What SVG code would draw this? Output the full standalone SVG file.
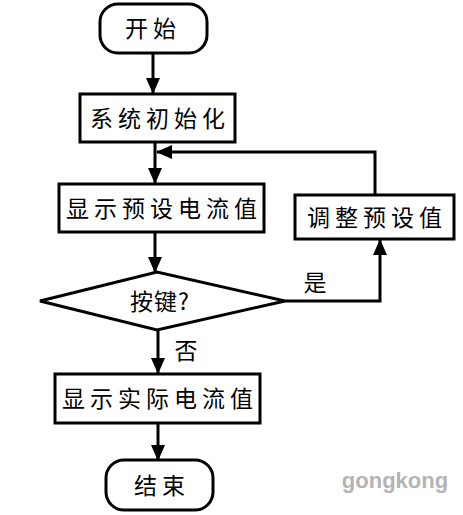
<svg xmlns="http://www.w3.org/2000/svg" width="463" height="515" viewBox="0 0 463 515">
<defs>
<style>
.n{fill:#fff;stroke:#000;stroke-width:3}
.t{font-family:"Noto Sans CJK SC","Liberation Serif",serif;font-size:23px;fill:#000;text-anchor:middle;letter-spacing:5px}
.c{fill:none;stroke:#000;stroke-width:3}
</style>
<marker id="ah" markerUnits="userSpaceOnUse" markerWidth="16" markerHeight="16" viewBox="0 0 16 16" refX="15" refY="8" orient="auto">
<path d="M0,1 L16,8 L0,15 Z" fill="#000"/>
</marker>
</defs>
<rect width="463" height="515" fill="#fff"/>
<g id="connectors">
<line class="c" x1="153" y1="53" x2="153" y2="93" marker-end="url(#ah)"/>
<line class="c" x1="155" y1="142" x2="155" y2="183" marker-end="url(#ah)"/>
<polyline class="c" points="375,195 375,152 157,152" marker-end="url(#ah)"/>
<line class="c" x1="155" y1="232" x2="155" y2="272" marker-end="url(#ah)"/>
<polyline class="c" points="285,301 380,301 380,240" marker-end="url(#ah)"/>
<line class="c" x1="158" y1="330" x2="158" y2="373" marker-end="url(#ah)"/>
<line class="c" x1="158" y1="423" x2="158" y2="460" marker-end="url(#ah)"/>
<text class="t" x="315" y="291" style="letter-spacing:0">是</text>
<text class="t" x="186" y="359" style="letter-spacing:0">否</text>
</g>
<g id="start">
<rect class="n" x="100" y="4" width="107" height="49" rx="18"/>
<text class="t" x="153" y="37">开始</text>
</g>
<g id="init">
<rect class="n" x="80" y="94" width="155" height="48"/>
<text class="t" x="160" y="127">系统初始化</text>
</g>
<g id="showset">
<rect class="n" x="59" y="184" width="205" height="48"/>
<text class="t" x="164" y="217">显示预设电流值</text>
</g>
<g id="adjust">
<rect class="n" x="295" y="195" width="159" height="44"/>
<text class="t" x="377" y="226">调整预设值</text>
</g>
<g id="decision">
<polygon class="n" points="40,301 157,272 285,301 157,330"/>
<text class="t" x="160" y="310" style="letter-spacing:1px">按键?</text>
</g>
<g id="showact">
<rect class="n" x="55" y="374" width="205" height="49"/>
<text class="t" x="160" y="407">显示实际电流值</text>
</g>
<g id="end">
<rect class="n" x="106" y="460" width="107" height="50" rx="18"/>
<text class="t" x="162" y="494">结束</text>
</g>
<text x="395" y="488" style="font-family:'Liberation Sans',Arial,sans-serif;font-size:22px;font-weight:bold;fill:#b4b4b4;text-anchor:middle">gongkong</text>
</svg>
